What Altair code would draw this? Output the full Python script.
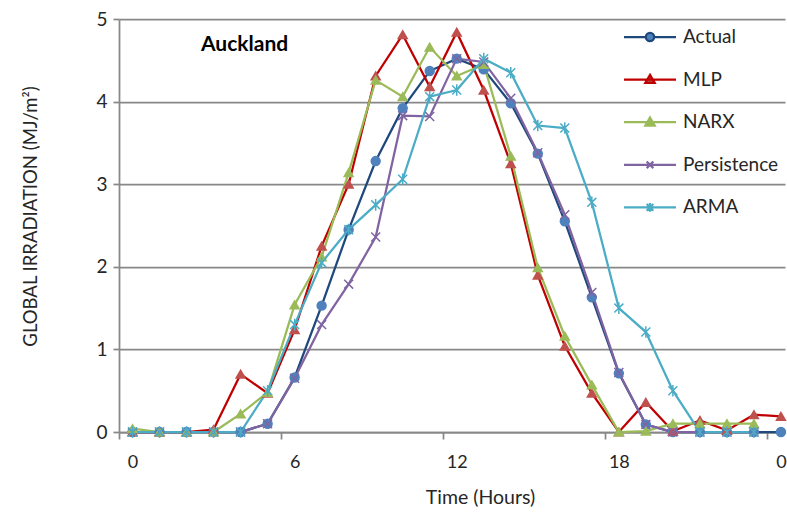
import altair as alt
import pandas as pd

hours = list(range(25))
series_names = ["Actual", "MLP", "NARX", "Persistence", "ARMA"]

actual = [0, 0, 0, 0, 0, 0.10, 0.66, 1.53, 2.45, 3.28, 3.92, 4.37, 4.52, 4.39, 3.98,
          3.37, 2.55, 1.63, 0.71, 0.09, 0, 0, 0, 0, 0]
mlp = [0, 0, 0, 0.03, 0.70, 0.47, 1.24, 2.25, 3.00, 4.31, 4.81, 4.18, 4.84, 4.14, 3.25,
       1.90, 1.04, 0.47, 0, 0.36, 0.01, 0.14, 0.02, 0.21, 0.19]
narx = [0.04, 0, 0, 0, 0.22, 0.48, 1.54, 2.12, 3.14, 4.26, 4.06, 4.66, 4.31, 4.45, 3.34,
        1.99, 1.16, 0.57, 0, 0.01, 0.10, 0.10, 0.10, 0.10]
persistence = [0, 0, 0, 0, 0, 0.10, 0.65, 1.30, 1.79, 2.36, 3.83, 3.82, 4.52, 4.48, 4.04,
               3.38, 2.63, 1.69, 0.72, 0.09, 0, 0, 0, 0]
arma = [0, 0, 0, 0, 0, 0.50, 1.30, 2.05, 2.45, 2.75, 3.06, 4.06, 4.14, 4.52, 4.35,
        3.71, 3.68, 2.78, 1.50, 1.21, 0.50, 0, 0, 0]

line_colors = ["#1F497D", "#C00000", "#9BBB59", "#8064A2", "#4BACC6"]
marker_colors = ["#4F81BD", "#C0504D", "#9BBB59", "#8064A2", "#4BACC6"]
marker_shapes = ["circle", "triangle-up", "triangle-up",
                 "M-1,-1L1,1M-1,1L1,-1",
                 "M-1,-1L1,1M-1,1L1,-1M0,-1.3L0,1.3"]
legend_shapes = [
    "M-2.5,0L-0.4,0M0.4,0L2.5,0M-0.4,0A0.4,0.4,0,1,0,0.4,0A0.4,0.4,0,1,0,-0.4,0Z",
    "M-2.5,0L2.5,0M0,-0.45L0.45,0.32L-0.45,0.32Z",
    "M-2.5,0L2.5,0M0,-0.45L0.45,0.32L-0.45,0.32Z",
    "M-2.5,0L2.5,0M-0.32,-0.32L0.32,0.32M-0.32,0.32L0.32,-0.32",
    "M-2.5,0L2.5,0M-0.32,-0.32L0.32,0.32M-0.32,0.32L0.32,-0.32M0,-0.42L0,0.42",
]

rows = []
for name, vals in zip(series_names, [actual, mlp, narx, persistence, arma]):
    for h, v in zip(hours, vals):
        rows.append({"series": name, "hour": h, "value": v})
df = pd.DataFrame(rows)
leg_df = pd.DataFrame({"series": series_names})

FONT = "Lato"
TXT = "#262626"
GRID = "#888888"

x_scale = alt.Scale(domain=[-0.5, 24.15], nice=False, zero=False)
y_scale = alt.Scale(domain=[0, 5], nice=False)

x_main = alt.X("hour:Q", scale=x_scale,
               axis=alt.Axis(values=[0, 6, 12, 18, 24], labelExpr="'' + (datum.value % 24)",
                             ticks=False, grid=False, domainColor=GRID, domainWidth=1.75,
                             labelFontSize=18, labelFont=FONT, labelColor=TXT, labelPadding=21,
                             labelBound=False,
                             title="Time (Hours)", titleFont=FONT, titleFontSize=19.5,
                             titleFontWeight="normal", titleColor=TXT,
                             titleX=361, titleY=65, titleBaseline="middle", titleAlign="center",
                             orient="bottom"))
x_ticks = alt.X("hour:Q", scale=x_scale,
                axis=alt.Axis(values=[-0.5, 5.5, 11.5, 17.5, 23.5], labels=False, ticks=True,
                              tickSize=7, tickColor=GRID, tickWidth=1.75, domain=False,
                              grid=False, title=None, orient="bottom"))
y_axis = alt.Axis(values=[0, 1, 2, 3, 4, 5], grid=True, gridColor=GRID, gridWidth=1.75,
                  domainColor=GRID, domainWidth=1.75, tickColor=GRID, tickWidth=1.75,
                  tickSize=6, labelFontSize=19, labelFont=FONT, labelColor=TXT,
                  labelPadding=6,
                  title="GLOBAL IRRADIATION (MJ/m²)", titleFont=FONT, titleFontSize=18.5,
                  titleFontWeight="normal", titleColor=TXT,
                  titleX=-89, titleY=197, titleAlign="center", titleBaseline="middle",
                  titleAngle=-90)
y_enc = alt.Y("value:Q", scale=y_scale, axis=y_axis)

lines = alt.Chart(df).mark_line(strokeWidth=2.25).encode(
    x=x_main, y=y_enc,
    stroke=alt.Stroke("series:N", scale=alt.Scale(domain=series_names, range=line_colors), legend=None),
    detail="series:N",
)

points = alt.Chart(df).mark_point(filled=False, strokeWidth=1.5, size=80, opacity=1).encode(
    x=x_ticks, y=alt.Y("value:Q", scale=y_scale, axis=y_axis),
    shape=alt.Shape("series:N", scale=alt.Scale(domain=series_names, range=marker_shapes), legend=None),
    fill=alt.Fill("series:N", scale=alt.Scale(domain=series_names, range=marker_colors), legend=None),
    stroke=alt.Stroke("series:N", scale=alt.Scale(domain=series_names, range=marker_colors), legend=None),
)

leg = alt.Legend(title=None, orient="none", legendX=519, legendY=6, padding=0,
                 labelFont=FONT, labelFontSize=19, labelColor=TXT, labelOffset=21,
                 rowPadding=20.6, symbolStrokeWidth=2.25, symbolSize=433, symbolOpacity=1)

legend_layer = alt.Chart(leg_df).mark_point(opacity=0, size=433).encode(
    shape=alt.Shape("series:N", scale=alt.Scale(domain=series_names, range=legend_shapes), legend=leg),
    fill=alt.Fill("series:N", scale=alt.Scale(domain=series_names, range=marker_colors), legend=leg),
    stroke=alt.Stroke("series:N", scale=alt.Scale(domain=series_names, range=line_colors), legend=leg),
)

chart = alt.layer(lines, points, legend_layer).resolve_scale(
    stroke="independent", fill="independent", shape="independent"
).resolve_axis(x="independent").properties(
    width=666, height=413,
    title=alt.Title("Auckland", anchor="start", frame="group", orient="top", offset=0,
                    dx=82, dy=62, baseline="alphabetic", font=FONT, fontSize=21,
                    fontWeight="bold", color="#000000"),
    autosize=alt.AutoSizeParams(type="none"),
    padding={"left": 119, "top": 19, "right": 2, "bottom": 82},
).configure_view(stroke=None)

chart.save("out.html", embed_options={"renderer": "svg", "actions": False})
